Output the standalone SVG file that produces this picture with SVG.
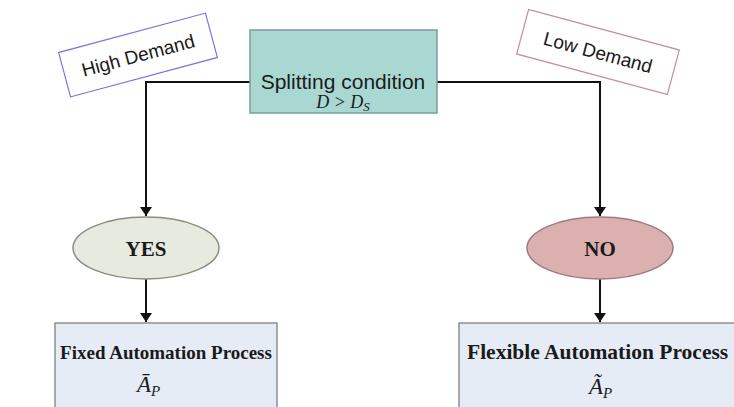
<svg xmlns="http://www.w3.org/2000/svg" width="734" height="407" viewBox="0 0 734 407">
  <defs>
    <marker id="arrow" viewBox="0 0 12 16" refX="12" refY="8" markerWidth="16" markerHeight="12" markerUnits="userSpaceOnUse" orient="auto">
      <path d="M0,0 L12,8 L0,16 z" fill="#111"/>
    </marker>
    <style>
      .sans { font-family: "Liberation Sans", Arial, sans-serif; fill: #1a1a1a; }
      .serif { font-family: "Liberation Serif", "Times New Roman", serif; fill: #1a1a1a; }
      .bold { font-weight: bold; }
      .ital { font-style: italic; }
      .wire { fill: none; stroke: #111; stroke-width: 2; }
      .proc { fill: #e5ecf6; stroke: #8c8f94; stroke-width: 1.5; }
    </style>
  </defs>
  <rect width="734" height="407" fill="#ffffff"/>

  <!-- connectors -->
  <g id="connectors">
    <path class="wire" d="M250,82 H146 V216" marker-end="url(#arrow)"/>
    <path class="wire" d="M437,82 H600 V216" marker-end="url(#arrow)"/>
    <path class="wire" d="M146,278 V322" marker-end="url(#arrow)"/>
    <path class="wire" d="M600,279 V322" marker-end="url(#arrow)"/>
  </g>

  <!-- decision -->
  <g id="splitting-condition">
    <rect x="250" y="30" width="187" height="83" fill="#a9d8d3" stroke="#7d9c9a" stroke-width="1.5"/>
    <text class="sans" x="343" y="89" font-size="21" text-anchor="middle">Splitting condition</text>
    <text class="serif ital" x="343" y="108" font-size="18" text-anchor="middle">D &gt; D<tspan font-size="13" dy="3">S</tspan></text>
  </g>

  <!-- branch labels -->
  <g id="high-demand" transform="translate(138,55) rotate(-15)">
    <rect x="-76" y="-23" width="152" height="46" fill="#ffffff" stroke="#7b6fe0" stroke-width="1.2"/>
    <text class="sans" x="0" y="7" font-size="19" text-anchor="middle">High Demand</text>
  </g>
  <g id="low-demand" transform="translate(598,52) rotate(15)">
    <rect x="-78" y="-23" width="156" height="46" fill="#ffffff" stroke="#c78a9c" stroke-width="1.2"/>
    <text class="sans" x="0" y="7" font-size="19" text-anchor="middle">Low Demand</text>
  </g>

  <!-- outcomes -->
  <g id="yes">
    <ellipse cx="146" cy="248" rx="73" ry="31" fill="#e6eadf" stroke="#8a8c80" stroke-width="1.5"/>
    <text class="serif bold" x="146" y="256" font-size="21" text-anchor="middle">YES</text>
  </g>
  <g id="no">
    <ellipse cx="600" cy="248" rx="73" ry="31" fill="#ddb0b0" stroke="#9c7c7c" stroke-width="1.5"/>
    <text class="serif bold" x="600" y="256" font-size="21" text-anchor="middle">NO</text>
  </g>

  <!-- processes -->
  <g id="fixed-process">
    <rect class="proc" x="55" y="323" width="222" height="90"/>
    <text class="serif bold" x="166" y="359" font-size="19" text-anchor="middle">Fixed Automation Process</text>
    <text class="serif ital" x="137" y="392" font-size="23">Ā<tspan font-size="15" dy="4">P</tspan></text>
  </g>
  <g id="flexible-process">
    <rect class="proc" x="459" y="323" width="290" height="90"/>
    <text class="serif bold" x="467" y="359" font-size="21.5">Flexible Automation Process</text>
    <text class="serif ital" x="589" y="394" font-size="23">Ã<tspan font-size="15" dy="4">P</tspan></text>
  </g>
</svg>
